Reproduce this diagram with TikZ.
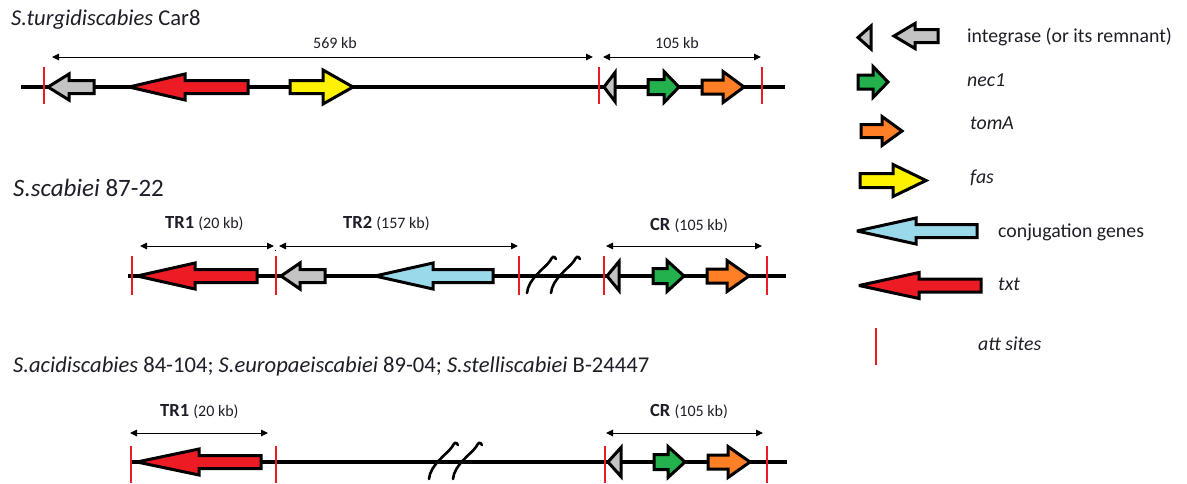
\documentclass[tikz,border=0pt]{standalone}
\usepackage{fontspec}
\setmainfont{Carlito}
\usetikzlibrary{arrows.meta}
\definecolor{gred}{HTML}{ED1C24}
\definecolor{ggray}{HTML}{C3C3C3}
\definecolor{gyellow}{HTML}{FFF200}
\definecolor{ggreen}{HTML}{22B14C}
\definecolor{gorange}{HTML}{FF7F27}
\definecolor{gblue}{HTML}{99D9EA}
\definecolor{txtc}{HTML}{1E1E28}
% left-pointing gene: colour, tip x, head-base x, tail x, y, shaft half, head half
\newcommand\geneL[7]{\filldraw[genestyle,fill=#1] (#2,#5) -- (#3,#5-#7) -- (#3,#5-#6) -- (#4,#5-#6) -- (#4,#5+#6) -- (#3,#5+#6) -- (#3,#5+#7) -- cycle;}
% right-pointing gene: colour, tail x, head-base x, tip x, y, shaft half, head half
\newcommand\geneR[7]{\filldraw[genestyle,fill=#1] (#2,#5-#6) -- (#3,#5-#6) -- (#3,#5-#7) -- (#4,#5) -- (#3,#5+#7) -- (#3,#5+#6) -- (#2,#5+#6) -- cycle;}
\newcommand\intTri[4]{\filldraw[genestyle,fill=ggray] (#1,#3) -- (#2,#3-#4) -- (#2,#3+#4) -- cycle;}
\newcommand\attSite[3]{\draw[attstyle] (#1,#2) -- (#1,#3);}
\begin{document}
\begin{tikzpicture}[x=1pt,y=-1pt,
  genestyle/.style={draw=black,line width=3pt,line join=miter,miter limit=4},
  backbone/.style={draw=black,line width=3.2pt},
  attstyle/.style={draw=gred,line width=2.7pt},
  dimline/.style={draw=black,line width=1pt,{Triangle[length=7pt,width=6.5pt]}-{Triangle[length=7pt,width=6.5pt]}},
  brk/.style={draw=black,line width=2.6pt,line cap=round},
  ttl/.style={text=txtc,anchor=base west,inner sep=0pt},
  lg/.style={font=\fontsize{19.8}{23}\selectfont,text=txtc,anchor=base west,inner sep=0pt},
  kb/.style={font=\fontsize{16}{18}\selectfont,text=txtc,anchor=base,inner sep=0pt},
  reg/.style={font=\fontsize{18.5}{22}\selectfont\bfseries,text=txtc,anchor=base west,inner sep=0pt}
]
\useasboundingbox (0,0) rectangle (1187,483);

% ---------------- Row 1 ----------------
\node[ttl,font=\fontsize{22.6}{26}\selectfont] (t1) at (11,25) {\textit{S.turgidiscabies} Car8};
\draw[backbone] (21,87) -- (785,87);
\geneL{ggray}{48}{69}{94}{87}{6.5}{13}
\geneL{gred}{129}{185}{248}{87}{6.5}{13}
\geneR{gyellow}{290}{323}{353}{87}{6.5}{17}
\intTri{604}{615}{87}{14.5}
\geneR{ggreen}{648}{664}{679}{87}{7.5}{15.5}
\geneR{gorange}{702}{723}{744}{87}{7}{15.5}
\attSite{44}{67}{104}
\attSite{599}{67}{104}
\attSite{762}{67}{104}
\coordinate (a1) at (52,57); \coordinate (b1) at (593,57);
\coordinate (c1) at (603,57); \coordinate (d1) at (761,57);
\draw[dimline] (a1) -- (b1);
\draw[dimline] (c1) -- (d1);
\node[kb] (k1) at (335,48) {569 kb};
\node[kb] (k2) at (677,48) {105 kb};

% ---------------- Row 2 ----------------
\node[ttl,font=\fontsize{25}{29}\selectfont] (t2) at (13,196) {\textit{S.scabiei} 87-22};
\draw[backbone] (128,276) -- (786,276);
\geneL{gred}{137}{195}{257}{276}{6.5}{13}
\geneL{ggray}{281}{300}{325}{276}{6.5}{13}
\geneL{gblue}{375}{433}{493}{276}{6.5}{13}
\intTri{607}{619}{276}{14.5}
\geneR{ggreen}{653}{667}{684}{276}{7.5}{15.5}
\geneR{gorange}{707}{727}{749}{276}{7}{15.5}
\draw[brk] (527,293) .. controls (528,279) and (545,268) .. (550,261) .. controls (552,257) and (554,255) .. (556,259);
\draw[brk] (551,293) .. controls (552,279) and (569,268) .. (574,261) .. controls (576,257) and (578,255) .. (580,259);
\attSite{132}{256}{295}
\attSite{276}{256}{295}
\attSite{519}{256}{295}
\attSite{604}{256}{295}
\attSite{767}{256}{295}
\coordinate (a2) at (140,246); \coordinate (b2) at (274,246);
\coordinate (c2) at (279,246); \coordinate (d2) at (518,246);
\coordinate (e2) at (606,246); \coordinate (f2) at (762,246);
\draw[dimline] (a2) -- (b2);
\draw[dimline] (c2) -- (d2);
\draw[dimline] (e2) -- (f2);
\fill[black] (275.5,250.5) circle (0.7);
\node[reg] (r21) at (165,228) {TR1 {\mdseries\fontsize{16}{18}\selectfont(20 kb)}};
\node[reg] (r22) at (343,228) {TR2 {\mdseries\fontsize{16}{18}\selectfont(157 kb)}};
\node[reg] (r23) at (650,230) {CR {\mdseries\fontsize{16}{18}\selectfont(105 kb)}};

% ---------------- Row 3 ----------------
\node[ttl,font=\fontsize{22.6}{26}\selectfont] (t3) at (13,372) {\textit{S.acidiscabies} 84-104; \textit{S.europaeiscabiei} 89-04; \textit{S.stelliscabiei} B-24447};
\draw[backbone] (130,462) -- (787,462);
\geneL{gred}{137}{199}{261}{462}{6.5}{13}
\intTri{608}{621}{462}{14.5}
\geneR{ggreen}{654}{668}{685}{462}{7.5}{15.5}
\geneR{gorange}{708}{728}{750}{462}{7}{15.5}
\draw[brk] (429,479) .. controls (430,465) and (447,454) .. (452,447) .. controls (454,443) and (456,441) .. (458,445);
\draw[brk] (453,479) .. controls (454,465) and (471,454) .. (476,447) .. controls (478,443) and (480,441) .. (482,445);
\attSite{131}{446}{483}
\attSite{276}{446}{483}
\attSite{605}{446}{483}
\attSite{767}{446}{483}
\coordinate (a3) at (130,433); \coordinate (b3) at (268,433);
\coordinate (c3) at (606,433); \coordinate (d3) at (763,433);
\draw[dimline] (a3) -- (b3);
\draw[dimline] (c3) -- (d3);
\node[reg] (r31) at (160,416) {TR1 {\mdseries\fontsize{16}{18}\selectfont(20 kb)}};
\node[reg] (r33) at (650,416) {CR {\mdseries\fontsize{16}{18}\selectfont(105 kb)}};

% ---------------- Legend ----------------
\intTri{858}{871}{37.5}{11.5}
\geneL{ggray}{894}{915}{938}{36}{6.5}{12.5}
\node[lg] (l1) at (967,42) {integrase (or its remnant)};
\geneR{ggreen}{858}{873}{888}{82}{7}{15.5}
\node[lg] (l2) at (967,86) {\textit{nec1}};
\geneR{gorange}{861}{882}{902}{131}{6.5}{14.5}
\node[lg] (l3) at (970,129) {\textit{tomA}};
\geneR{gyellow}{860}{893}{926}{180.5}{7}{16}
\node[lg] (l4) at (970,183) {\textit{fas}};
\geneL{gblue}{857}{916}{977}{231}{6.5}{13}
\node[lg] (l5) at (998,237) {conjugation genes};
\geneL{gred}{859}{919}{981}{285.5}{6.5}{13}
\node[lg] (l6) at (998,290) {\textit{txt}};
\attSite{876}{328}{365}
\node[lg] (l7) at (978,350) {\textit{att sites}};
\end{tikzpicture}
\end{document}
